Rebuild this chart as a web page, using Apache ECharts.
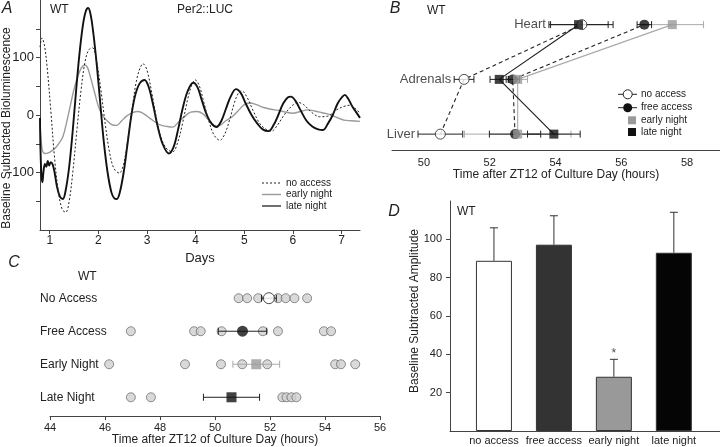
<!DOCTYPE html>
<html><head><meta charset="utf-8">
<script src="https://cdn.jsdelivr.net/npm/echarts@6/dist/echarts.min.js"></script>
<style>html,body{margin:0;padding:0;background:#fff}#c{width:720px;height:447px}</style>
</head><body><div id="c"></div>
<script>
// ---------------- Panel A data (days, baseline subtracted bioluminescence) ----------------
const aNoAccess = [[0.80,118],[0.84,134],[0.89,122],[0.95,80],[1.02,10],[1.10,-75],[1.18,-135],[1.26,-165],[1.33,-169],[1.40,-150],[1.48,-95],[1.56,-25],[1.64,40],[1.72,90],[1.80,113],[1.88,117],[1.96,95],[2.05,45],[2.14,-15],[2.23,-65],[2.32,-93],[2.43,-101],[2.52,-85],[2.61,-40],[2.70,15],[2.78,58],[2.85,80],[2.92,89],[3.00,78],[3.10,38],[3.20,-8],[3.30,-42],[3.42,-60],[3.53,-64],[3.63,-48],[3.73,-15],[3.83,25],[3.92,52],[3.99,61],[4.07,52],[4.17,22],[4.27,-10],[4.38,-35],[4.50,-44],[4.60,-33],[4.70,-8],[4.80,22],[4.88,38],[4.95,42],[5.05,32],[5.18,8],[5.32,-15],[5.45,-25],[5.56,-28],[5.68,-18],[5.82,0],[5.97,15],[6.10,22],[6.22,18],[6.38,5],[6.55,-3],[6.72,-2],[6.88,8],[7.05,15],[7.18,17],[7.30,10],[7.38,3]];
const aEarlyNight = [[0.80,-15],[0.82,-40],[0.85,-62],[0.90,-67],[0.97,-66],[1.05,-62],[1.12,-57],[1.20,-48],[1.27,-38],[1.35,-12],[1.42,15],[1.50,45],[1.58,68],[1.65,82],[1.72,87],[1.78,82],[1.84,65],[1.92,40],[2.00,15],[2.08,0],[2.18,-10],[2.28,-17],[2.38,-18],[2.48,-10],[2.58,-2],[2.70,4],[2.82,6],[2.92,3],[3.05,-5],[3.18,-13],[3.30,-18],[3.42,-20],[3.53,-21],[3.65,-12],[3.78,-2],[3.90,5],[4.02,6],[4.15,2],[4.28,-10],[4.40,-19],[4.50,-18],[4.62,-10],[4.75,-3],[4.88,8],[5.00,18],[5.12,21],[5.25,18],[5.40,13],[5.55,10],[5.70,8],[5.85,5],[6.00,3],[6.15,6],[6.30,9],[6.45,7],[6.60,4],[6.75,1],[6.90,-4],[7.05,-9],[7.20,-10],[7.38,-11]];
const aLateNight = [[0.80,-5],[0.81,-60],[0.83,-105],[0.85,-117],[0.87,-100],[0.90,-85],[0.93,-90],[0.96,-80],[0.99,-88],[1.02,-82],[1.06,-86],[1.10,-100],[1.15,-125],[1.21,-142],[1.27,-146],[1.33,-130],[1.40,-90],[1.47,-30],[1.54,40],[1.61,105],[1.68,155],[1.74,180],[1.79,186],[1.84,175],[1.90,140],[1.97,85],[2.04,20],[2.11,-45],[2.19,-100],[2.27,-135],[2.33,-145],[2.38,-146],[2.44,-135],[2.52,-100],[2.60,-50],[2.68,0],[2.76,35],[2.85,55],[2.95,61],[3.03,50],[3.12,20],[3.22,-20],[3.32,-50],[3.45,-67],[3.55,-55],[3.64,-25],[3.73,10],[3.83,40],[3.95,56],[4.04,48],[4.13,25],[4.23,0],[4.33,-15],[4.43,-21],[4.53,-10],[4.62,10],[4.72,32],[4.83,45],[4.93,38],[5.03,20],[5.15,0],[5.27,-15],[5.38,-25],[5.50,-28],[5.60,-18],[5.70,0],[5.80,20],[5.90,31],[5.96,32],[6.05,25],[6.16,8],[6.28,-10],[6.40,-20],[6.52,-25],[6.62,-26],[6.72,-15],[6.82,0],[6.92,20],[7.00,30],[7.07,35],[7.14,28],[7.22,15],[7.30,5],[7.38,-5]];
const aXTicks = [1,2,3,4,5,6,7];
const aYTicks = [-150,-100,-50,0,50,100,150];
const aYLabels = [-100,0,100];
const aLegend = ['no access','early night','late night'];

// ---------------- Panel B data (hours after ZT12) ----------------
const bOrgans = ['Liver','Adrenals','Heart'];
const bNoAccess = [50.5, 51.22, 54.8];
const bNoAccessErr = [0.68, 0.3, 0.95];
const bFreeAccess = [52.77, 52.7, 56.7];
const bFreeAccessErr = [0.78, 0.2, 0.22];
const bEarlyNight = [52.85, 52.85, 57.55];
const bEarlyNightErr = [1.62, 0.3, 0.95];
const bLateNight = [53.95, 52.29, 54.7];
const bLateNightErr = [0.8, 0.28, 0.9];
const bXTicks = [50,52,54,56,58];
const bLegend = ['no access','free access','early night','late night'];

// ---------------- Panel C data (hours after ZT12) ----------------
const cRows = ['Late Night','Early Night','Free Access','No Access'];
const cNoAccessPts = [50.86, 51.17, 51.57, 52.29, 52.57, 52.89, 53.35];
const cFreeAccessPts = [46.94, 49.24, 49.48, 50.24, 51.74, 52.29, 53.96, 54.22];
const cEarlyNightPts = [46.15, 48.91, 50.22, 50.99, 51.9, 54.37, 54.58, 55.1];
const cLateNightPts = [46.94, 47.67, 52.45, 52.6, 52.78, 52.96];
const cMeans = [50.6, 51.5, 51.0, 51.96];      // Late, Early, Free, No
const cErrs  = [1.02, 0.85, 0.88, 0.27];
const cXTicks = [44,46,48,50,52,54,56];

// ---------------- Panel D data (amplitude) ----------------
const dGroups = ['no access','free access','early night','late night'];
const dMeans = [88.8, 97.2, 28.3, 93.0];
const dErrs = [17.2, 15.1, 9.1, 21.1];
const dSignif = ['', '', '*', ''];
const dYTicks = [20,40,60,80,100];

// ---------------- styles ----------------
const FONT = 'Liberation Sans, Arial, sans-serif';
const INK = '#222';
const GREY = '#9a9a9a';
const dColors = ['#ffffff', '#333333', '#999999', '#050505'];

function hErr(color) {
  return function (params, api) {
    const c = api.value(0), y = api.value(1), e = api.value(2);
    const p1 = api.coord([c - e, y]), p2 = api.coord([c + e, y]);
    const st = { stroke: color, lineWidth: 1 };
    return { type: 'group', children: [
      { type: 'line', shape: { x1: p1[0], y1: p1[1], x2: p2[0], y2: p2[1] }, style: st },
      { type: 'line', shape: { x1: p1[0], y1: p1[1] - 3.5, x2: p1[0], y2: p1[1] + 3.5 }, style: st },
      { type: 'line', shape: { x1: p2[0], y1: p2[1] - 3.5, x2: p2[0], y2: p2[1] + 3.5 }, style: st }
    ]};
  };
}
function vErrUp(params, api) {
  const x = api.value(0), m = api.value(1), e = api.value(2);
  const p1 = api.coord([x, m]), p2 = api.coord([x, m + e]);
  const st = { stroke: '#333', lineWidth: 1 };
  return { type: 'group', children: [
    { type: 'line', shape: { x1: p1[0], y1: p1[1], x2: p2[0], y2: p2[1] }, style: st },
    { type: 'line', shape: { x1: p2[0] - 4, y1: p2[1], x2: p2[0] + 4, y2: p2[1] }, style: st }
  ]};
}
const axLine = { show: true, onZero: false, lineStyle: { color: '#444', width: 1 } };
const lbl = (size, extra) => Object.assign({ color: INK, fontFamily: FONT, fontSize: size }, extra || {});

const toRow = (arr) => arr.map((v, i) => [v, i]);
const errRows = (vals, errs) => vals.map((v, i) => [v, i, errs[i]]);
const bLabelX = bOrgans.map((_, i) => Math.min(
  bNoAccess[i] - bNoAccessErr[i], bFreeAccess[i] - bFreeAccessErr[i],
  bEarlyNight[i] - bEarlyNightErr[i], bLateNight[i] - bLateNightErr[i]));

const series = [
  // ---- A ----
  { type: 'line', xAxisIndex: 0, yAxisIndex: 0, data: aEarlyNight, showSymbol: false, smooth: 0.35,
    lineStyle: { color: GREY, width: 1.4 }, z: 2 },
  { type: 'line', xAxisIndex: 0, yAxisIndex: 0, data: aLateNight, showSymbol: false, smooth: 0.35,
    lineStyle: { color: '#111', width: 1.9 }, z: 3 },
  { type: 'line', xAxisIndex: 0, yAxisIndex: 0, data: aNoAccess, showSymbol: false, smooth: 0.35,
    lineStyle: { color: '#222', width: 1, type: [2, 2] }, z: 4 },
  // ---- B connecting lines ----
  { type: 'line', xAxisIndex: 1, yAxisIndex: 1, data: toRow(bNoAccess), symbol: 'none',
    lineStyle: { color: '#222', width: 1.1, type: [4, 3] }, z: 2 },
  { type: 'line', xAxisIndex: 1, yAxisIndex: 1, data: toRow(bFreeAccess), symbol: 'none',
    lineStyle: { color: '#222', width: 1.1, type: [4, 3] }, z: 2 },
  { type: 'line', xAxisIndex: 1, yAxisIndex: 1, data: toRow(bEarlyNight), symbol: 'none',
    lineStyle: { color: '#aaa', width: 1.1 }, z: 2 },
  { type: 'line', xAxisIndex: 1, yAxisIndex: 1, data: toRow(bLateNight), symbol: 'none',
    lineStyle: { color: '#222', width: 1.2 }, z: 2 },
  // ---- B error bars ----
  { type: 'custom', xAxisIndex: 1, yAxisIndex: 1, renderItem: hErr('#aaa'), data: errRows(bEarlyNight, bEarlyNightErr), encode: { x: 0, y: 1 }, z: 3, clip: false },
  { type: 'custom', xAxisIndex: 1, yAxisIndex: 1, renderItem: hErr('#222'), data: errRows(bNoAccess, bNoAccessErr), encode: { x: 0, y: 1 }, z: 3, clip: false },
  { type: 'custom', xAxisIndex: 1, yAxisIndex: 1, renderItem: hErr('#222'), data: errRows(bFreeAccess, bFreeAccessErr), encode: { x: 0, y: 1 }, z: 3, clip: false },
  { type: 'custom', xAxisIndex: 1, yAxisIndex: 1, renderItem: hErr('#222'), data: errRows(bLateNight, bLateNightErr), encode: { x: 0, y: 1 }, z: 3, clip: false },
  // ---- B markers ----
  { type: 'scatter', xAxisIndex: 1, yAxisIndex: 1, data: toRow(bNoAccess), symbol: 'circle', symbolSize: 10,
    itemStyle: { color: '#fff', borderColor: '#222', borderWidth: 1 }, z: 4 },
  { type: 'scatter', xAxisIndex: 1, yAxisIndex: 1, data: toRow(bFreeAccess), symbol: 'circle', symbolSize: 10,
    itemStyle: { color: '#111' }, z: 5 },
  { type: 'scatter', xAxisIndex: 1, yAxisIndex: 1, data: toRow(bEarlyNight), symbol: 'rect', symbolSize: 9,
    itemStyle: { color: '#9a9a9a' }, z: 6 },
  { type: 'scatter', xAxisIndex: 1, yAxisIndex: 1, data: toRow(bLateNight), symbol: 'rect', symbolSize: 9,
    itemStyle: { color: '#111' }, z: 7 },
  // ---- B organ labels ----
  { type: 'scatter', xAxisIndex: 1, yAxisIndex: 1, data: toRow(bLabelX), symbolSize: 0, silent: true,
    label: { show: true, position: 'left', distance: 3, formatter: (p) => bOrgans[p.dataIndex], color: INK, fontFamily: FONT, fontSize: 13 } },
  // ---- C individual points ----
  { type: 'scatter', xAxisIndex: 2, yAxisIndex: 2,
    data: [].concat(cLateNightPts.map(v => [v, 0]), cEarlyNightPts.map(v => [v, 1]), cFreeAccessPts.map(v => [v, 2]), cNoAccessPts.map(v => [v, 3])),
    symbol: 'circle', symbolSize: 9, itemStyle: { color: '#cfcfcf', borderColor: '#555', borderWidth: 0.8 }, z: 2 },
  // ---- C error bars ----
  { type: 'custom', xAxisIndex: 2, yAxisIndex: 2, renderItem: hErr('#222'), data: [0, 2, 3].map(i => [cMeans[i], i, cErrs[i]]), encode: { x: 0, y: 1 }, z: 3, clip: false },
  { type: 'custom', xAxisIndex: 2, yAxisIndex: 2, renderItem: hErr('#aaa'), data: [[cMeans[1], 1, cErrs[1]]], encode: { x: 0, y: 1 }, z: 3, clip: false },
  // ---- C means ----
  { type: 'scatter', xAxisIndex: 2, yAxisIndex: 2, data: [[cMeans[3], 3]], symbol: 'circle', symbolSize: 11,
    itemStyle: { color: '#fff', borderColor: '#222', borderWidth: 1 }, z: 4 },
  { type: 'scatter', xAxisIndex: 2, yAxisIndex: 2, data: [[cMeans[2], 2]], symbol: 'circle', symbolSize: 11,
    itemStyle: { color: '#111' }, z: 4 },
  { type: 'scatter', xAxisIndex: 2, yAxisIndex: 2, data: [[cMeans[1], 1]], symbol: 'rect', symbolSize: 10,
    itemStyle: { color: '#9a9a9a' }, z: 4 },
  { type: 'scatter', xAxisIndex: 2, yAxisIndex: 2, data: [[cMeans[0], 0]], symbol: 'rect', symbolSize: 10,
    itemStyle: { color: '#111' }, z: 4 },
  // ---- D bars ----
  { type: 'bar', xAxisIndex: 3, yAxisIndex: 3, barWidth: 36,
    data: dMeans.map((v, i) => ({ value: [i + 1, v], itemStyle: { color: dColors[i], borderColor: '#333', borderWidth: 1 } })), z: 2 },
  { type: 'custom', xAxisIndex: 3, yAxisIndex: 3, renderItem: vErrUp, data: dMeans.map((v, i) => [i + 1, v, dErrs[i]]), encode: { x: 0, y: 1 }, z: 3, clip: false },
  { type: 'scatter', xAxisIndex: 3, yAxisIndex: 3, data: dMeans.map((v, i) => [i + 1, v + dErrs[i]]), symbolSize: 0, silent: true,
    label: { show: true, position: 'top', distance: 0, formatter: (p) => dSignif[p.dataIndex], color: INK, fontFamily: FONT, fontSize: 12 } }
];

const T = (text, x, y, opt) => ({ type: 'text', x: x, y: y, silent: true,
  style: Object.assign({ text: text, fill: INK, font: '12px ' + FONT, align: 'left', verticalAlign: 'middle' }, opt || {}) });
const L = (x1, y1, x2, y2, st) => ({ type: 'line', silent: true, shape: { x1, y1, x2, y2 }, style: Object.assign({ stroke: '#222', lineWidth: 1 }, st || {}) });

const graphic = [
  // Panel A
  T('A', 7, 9, { font: 'italic 16px ' + FONT, align: 'center' }),
  T('WT', 50, 10, { font: '12px ' + FONT }),
  T('Per2::LUC', 177, 10, { font: '12px ' + FONT }),
  { type: 'text', x: 7, y: 128, rotation: Math.PI / 2, silent: true,
    style: { text: 'Baseline Subtracted Bioluminescence', fill: INK, font: '12px ' + FONT, align: 'center', verticalAlign: 'middle' } },
  L(262, 183, 281, 183, { lineDash: [2, 2] }), T(aLegend[0], 286, 183, { font: '10px ' + FONT }),
  L(262, 194.5, 281, 194.5, { stroke: GREY, lineWidth: 1.4 }), T(aLegend[1], 286, 194.5, { font: '10px ' + FONT }),
  L(262, 206, 281, 206, { stroke: '#333', lineWidth: 1.4 }), T(aLegend[2], 286, 206, { font: '10px ' + FONT }),
  // Panel B
  T('B', 395, 9, { font: 'italic 16px ' + FONT, align: 'center' }),
  T('WT', 427, 11, { font: '12px ' + FONT }),
  L(618, 94.3, 637, 94.3), { type: 'circle', silent: true, shape: { cx: 627.7, cy: 94.3, r: 4.5 }, style: { fill: '#fff', stroke: '#222' } },
  T(bLegend[0], 641, 94.3, { font: '10px ' + FONT }),
  L(618, 107.7, 637, 107.7), { type: 'circle', silent: true, shape: { cx: 627.7, cy: 107.7, r: 4.5 }, style: { fill: '#111' } },
  T(bLegend[1], 641, 107.7, { font: '10px ' + FONT }),
  { type: 'rect', silent: true, shape: { x: 628, y: 116.3, width: 8, height: 8 }, style: { fill: '#9a9a9a' } },
  T(bLegend[2], 641, 120.3, { font: '10px ' + FONT }),
  { type: 'rect', silent: true, shape: { x: 628, y: 128, width: 8, height: 8 }, style: { fill: '#111' } },
  T(bLegend[3], 641, 132, { font: '10px ' + FONT }),
  // Panel C
  T('C', 14, 263, { font: 'italic 16px ' + FONT, align: 'center' }),
  T('WT', 78, 277, { font: '12px ' + FONT }),
  // Panel D
  T('D', 394, 212, { font: 'italic 16px ' + FONT, align: 'center' }),
  T('WT', 457, 212, { font: '12px ' + FONT }),
  { type: 'text', x: 415, y: 311, rotation: Math.PI / 2, silent: true,
    style: { text: 'Baseline Subtracted Amplitude', fill: INK, font: '12px ' + FONT, align: 'center', verticalAlign: 'middle' } }
];

const option = {
  animation: false,
  backgroundColor: '#fff',
  textStyle: { fontFamily: FONT },
  grid: [
    { left: 40, top: 0, width: 320, height: 230 },
    { left: 392, top: 0, width: 328, height: 150 },
    { left: 50, top: 285, width: 330, height: 132.3 },
    { left: 450, top: 201, width: 270, height: 230 }
  ],
  xAxis: [
    { gridIndex: 0, type: 'value', min: 0.8, max: 7.38, axisLine: axLine, splitLine: { show: false },
      axisTick: { show: true, customValues: aXTicks, length: 4, lineStyle: { color: '#444' } },
      axisLabel: lbl(12, { customValues: aXTicks, margin: 5 }),
      name: 'Days', nameLocation: 'middle', nameGap: 15, nameTextStyle: lbl(13) },
    { gridIndex: 1, type: 'value', min: 49.03, max: 59, axisLine: axLine, splitLine: { show: false },
      axisTick: { show: false },
      axisLabel: lbl(11, { customValues: bXTicks, margin: 7 }),
      name: 'Time after ZT12 of Culture Day (hours)', nameLocation: 'middle', nameGap: 16, nameTextStyle: lbl(12) },
    { gridIndex: 2, type: 'value', min: 44, max: 56, axisLine: axLine, splitLine: { show: false },
      axisTick: { show: true, customValues: cXTicks, length: 4, lineStyle: { color: '#444' } },
      axisLabel: lbl(11, { customValues: cXTicks, margin: 6 }),
      name: 'Time after ZT12 of Culture Day (hours)', nameLocation: 'middle', nameGap: 17, nameTextStyle: lbl(12) },
    { gridIndex: 3, type: 'value', min: 0.267, max: 4.77, axisLine: axLine, splitLine: { show: false },
      axisTick: { show: false },
      axisLabel: lbl(11, { customValues: [1, 2, 3, 4], margin: 4, formatter: (v) => dGroups[Math.round(v) - 1] }) }
  ],
  yAxis: [
    { gridIndex: 0, type: 'value', min: -200, max: 200, axisLine: axLine, splitLine: { show: false },
      axisTick: { show: true, customValues: aYTicks, length: 4, lineStyle: { color: '#444' } },
      axisLabel: lbl(13, { customValues: aYLabels, margin: 6 }) },
    { gridIndex: 1, type: 'value', min: -0.29, max: 2.45, show: false },
    { gridIndex: 2, type: 'value', min: -0.57, max: 3.4, axisLine: { show: false }, axisTick: { show: false }, splitLine: { show: false },
      axisLabel: lbl(12, { customValues: [0, 1, 2, 3], align: 'left', margin: 10, formatter: (v) => cRows[Math.round(v)] }) },
    { gridIndex: 3, type: 'value', min: 0, max: 120, axisLine: axLine, splitLine: { show: false },
      axisTick: { show: true, customValues: dYTicks, length: 4, lineStyle: { color: '#444' } },
      axisLabel: lbl(11, { customValues: dYTicks, margin: 8 }) }
  ],
  series: series,
  graphic: graphic
};

const chart = echarts.init(document.getElementById('c'), null, { renderer: 'canvas' });
chart.setOption(option);
</script>
</body></html>
